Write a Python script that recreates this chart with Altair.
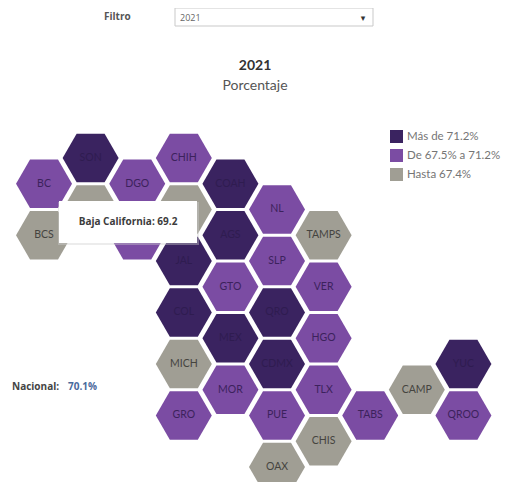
import altair as alt
import pandas as pd

# hex grid: column, half-row, label, class
states = ["BC","BCS","SON","SIN","DGO","NAY","CHIH","ZAC","JAL","COL","MICH","GRO","COAH","AGS","GTO","MEX","MOR",
          "NL","SLP","QRO","CDMX","PUE","OAX","TAMPS","VER","HGO","TLX","CHIS","TABS","CAMP","YUC","QROO"]
cols =   [0,0,1,1,2,2,3,3,3,3,3,3,4,4,4,4,4,5,5,5,5,5,5,6,6,6,6,6,7,8,9,9]
rows =   [1,3,0,2,1,3,0,2,4,6,8,10,1,3,5,7,9,2,4,6,8,10,12,3,5,7,9,11,10,9,8,10]
classes_short = "PGDGPPPGDDGPDDPDPPPDDPGGPPPGPGDP"
CLASS_NAMES = {"D": "Más de 71.2%", "P": "De 67.5% a 71.2%", "G": "Hasta 67.4%"}
legend_order = ["Más de 71.2%", "De 67.5% a 71.2%", "Hasta 67.4%"]
legend_colors = ["#3a2360", "#7b4ca3", "#a09e94"]
label_colors = ["#2f1c50", "#3c225c", "#45443f"]

df = pd.DataFrame({"estado": states, "col": cols, "row": rows,
                   "clase": [CLASS_NAMES[c] for c in classes_short]})

xs = alt.Scale(domain=[-0.773, 9.828], nice=False, zero=False)
ys = alt.Scale(domain=[-5.825, 12.583], nice=False, zero=False, reverse=True)
X = alt.X("col:Q", scale=xs, axis=None)
Y = alt.Y("row:Q", scale=ys, axis=None)

HEX = "M-1,0L-0.5,-0.866L0.5,-0.866L1,0L0.5,0.866L-0.5,0.866Z"

hexes = alt.Chart(df).mark_point(shape=HEX, filled=True, opacity=1, size=3136, strokeWidth=0).encode(
    x=X, y=Y,
    color=alt.Color("clase:N", scale=alt.Scale(domain=legend_order, range=legend_colors),
                    legend=alt.Legend(title=None, orient="none", legendX=382, legendY=122,
                                      symbolType="square", symbolSize=169, symbolOpacity=1,
                                      symbolStrokeWidth=0, labelFont="Lato", labelFontSize=11.5,
                                      labelColor="#757575", rowPadding=6, labelOffset=4)),
    tooltip=["estado", "clase"],
)
labels = alt.Chart(df).mark_text(font="Lato", fontSize=10.5).encode(
    x=X, y=Y, text="estado:N",
    color=alt.Color("clase:N", scale=alt.Scale(domain=legend_order, range=label_colors), legend=None),
)

def note(text, x, y, **kw):
    params = dict(font="Lato", fontSize=11, color="#444444", align="left", baseline="middle")
    params.update(kw)
    return alt.Chart(pd.DataFrame({"t": [text]})).mark_text(**params).encode(
        x=alt.value(x), y=alt.value(y), text="t:N")

def box(x, x2, y, y2, **kw):
    return alt.Chart(pd.DataFrame({"a": [0]})).mark_rect(**kw).encode(
        x=alt.value(x), x2=alt.value(x2), y=alt.value(y), y2=alt.value(y2))

tip_shadow = box(50, 191, 194, 237, color="#cfcfcf", opacity=0.4)
tip_box = box(51, 189, 193, 235, color="#ffffff")
tip_text = note("Baja California: 69.2", 120, 214, align="center", fontWeight="bold", fontSize=10, color="#3c3c3c", font="Open Sans")

filter_box = box(167, 365, 0, 18, color="#ffffff", stroke="#c9c9c9", strokeWidth=1)
filter_lab = note("Filtro", 96, 9, fontWeight="bold", fontSize=10, color="#555555", font="Open Sans")
filter_val = note("2021", 172, 10, fontSize=9, color="#666666", font="Open Sans")
filter_arrow = note("▾", 355, 10, fontSize=9, color="#333333", font="DejaVu Sans", align="center")

nat1 = note("Nacional:", 4, 379, fontWeight="bold", fontSize=10, color="#444444", font="Open Sans")
nat2 = note("70.1%", 60, 379, fontWeight="bold", fontSize=10, color="#4a6a9c", font="Open Sans")

chart = alt.layer(hexes, labels, filter_box, filter_lab, filter_val, filter_arrow,
                  nat1, nat2, tip_shadow, tip_box, tip_text).resolve_scale(color="independent").properties(
    width=494, height=474, padding=0, autosize=alt.AutoSizeParams(type="none"),
    title=alt.TitleParams(text="2021", subtitle="Porcentaje", anchor="middle", offset=-85,
                          font="Lato", fontSize=14, fontWeight="bold", color="#333333",
                          subtitleFont="Lato", subtitleFontSize=14, subtitleColor="#555555", subtitlePadding=6),
).configure_view(stroke=None)

chart.save("out.html", embed_options={"renderer": "svg", "actions": False})
